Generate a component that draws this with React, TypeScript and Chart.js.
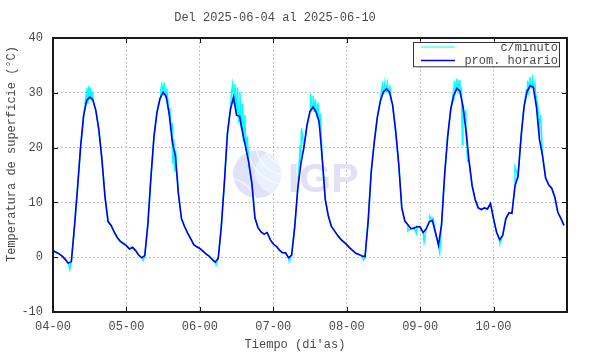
import React, { useEffect, useRef } from 'react';
import { Chart, registerables } from 'chart.js';

Chart.register(...registerables);

const titleText = 'Del 2025-06-04 al 2025-06-10';
const yTitle = 'Temperatura de superficie (°C)';
const xTitle = "Tiempo (di'as)";
const dayLabels = ['04-00', '05-00', '06-00', '07-00', '08-00', '09-00', '10-00'];
const seriesNames = ['c/minuto', 'prom. horario'];

// hourly mean (hours since 2025-06-04 00:00)
const hourlyTemp = [
  1.2, 0.9, 0.6, 0.2, -0.4, -1.1, -0.8, 5.5, 12.5, 20, 25.8, 28.6, 29.2, 28.8, 26.8, 23.2, 17.8, 11, 6.5, 5.8, 4.6, 3.6, 2.9, 2.5,
  2.1, 1.5, 1.8, 1.2, 0.4, -0.1, 0.3, 6, 14.5, 22, 26.5, 29, 30.1, 29.3, 26, 21, 18.5, 11.5, 7, 5.6, 4.4, 3.4, 2.3, 1.9,
  1.6, 1.1, 0.6, 0.2, -0.4, -0.9, -0.2, 5.5, 13.5, 22.5, 27, 29.2, 25.9, 25.7, 22.6, 20, 17.2, 13.5, 7.2, 5.4, 4.6, 4.2, 4.5, 3.2,
  2.4, 2, 1.3, 0.8, 0.8, -0.1, 0.4, 5.5, 12.5, 17, 20, 24, 26.6, 27.4, 26.5, 24.6, 18, 10.5, 7.5, 5.6, 4.8, 4, 3.3, 2.8,
  2.3, 1.7, 1.2, 0.7, 0.5, 0.2, 0.1, 6.5, 15.5, 21, 25.5, 28.5, 30.2, 30.7, 30.1, 27.8, 23, 17, 9, 6.6, 5.9, 5.2, 5.3, 5.6,
  5.5, 4.5, 5.2, 6.5, 6.7, 4.5, 2.2, 6, 15, 22, 27, 29.5, 30.8, 30.3, 27.5, 23, 17.5, 13, 10.5, 9, 8.7, 9, 8.8, 9.8,
  7, 4.5, 3.2, 4, 7, 8.1, 8, 13, 14.8, 22, 27.6, 30.3, 31.3, 31, 27.5, 21.5, 18.5, 14.5, 13.2, 12.6, 11, 8.2, 7.1, 5.8,
];

// per-minute excursions (hours, °C)
const minuteHours = [
  5.5, 10.8, 11.1, 11.4, 11.7, 12.0, 12.3, 12.6, 12.9, 13.3,
  29.5, 35.2, 35.6, 36.0, 36.4, 36.8, 37.2, 37.6, 38.2, 38.6, 38.9, 39.2, 39.5, 39.8, 40.1, 40.4, 40.7,
  53.3, 58.3, 58.7, 59.1, 59.5, 59.9, 60.3, 60.7, 61.1, 61.5, 61.9, 62.3, 62.7, 63.1, 63.5, 64.0,
  77.2, 80.8, 81.2, 84.2, 84.6, 85.0, 85.4, 85.8, 86.2, 86.6, 87.0, 87.4,
  101.5, 107.3, 107.7, 108.1, 108.5, 108.9, 109.3, 109.7, 110.1, 110.5,
  116.0, 118.8, 121.3, 123.2, 124.2, 126.4, 130.8, 131.2, 131.6, 132.0, 132.4, 132.8, 133.2, 133.5, 133.8, 134.1, 134.5, 134.9, 135.2, 135.5,
  146.1, 150.6, 151.0, 153.6, 154.7, 155.1, 155.5, 155.9, 156.3, 156.7, 157.1, 157.5, 158.0, 158.5, 159.0, 159.4, 160.3,
];
const minuteTemps = [
  -2.2, 29.5, 30.8, 28, 31.2, 28.8, 30.9, 28.4, 30.2, 28,
  -0.6, 30.5, 31.5, 29.5, 31.8, 29.2, 30.8, 28.4, 27.2, 23, 24.5, 17, 21.5, 15.5, 19.5, 16, 14,
  -1.4, 30, 31.5, 28, 31.6, 26.5, 31, 24.5, 30.2, 23.5, 28, 21, 26, 19.5, 22, 16.5,
  -0.8, 20.5, 23.5, 29.8, 27, 29.5, 26.5, 28.8, 25.5, 28.2, 24, 26.2,
  -0.5, 30.3, 31.5, 29.8, 31.9, 30.2, 31.8, 30, 31.4, 28.8,
  4.8, 4.3, 2.8, 7.5, 7.3, 0.8, 30, 32.2, 30.2, 32.6, 30.5, 32.3, 29.8, 31, 20.5, 27.5, 25.8, 26.5, 21, 17.5,
  2.5, 11, 16.5, 26, 30.5, 32.2, 30.3, 32.9, 31, 32.6, 30.6, 31.8, 29.5, 27.5, 24.5, 26, 17.5,
];

const FONT = '"Liberation Mono", "Courier New", monospace';
const TEXT = '#4a4a4a';

const decorPlugin = {
  id: 'decor',
  beforeDatasetsDraw(chart: any) {
    const { ctx, chartArea: a } = chart;
    const w = a.right - a.left;
    const h = a.bottom - a.top;
    const cx = a.left + 0.397 * w;
    const cy = a.top + 0.497 * h;
    const r = 24;
    ctx.save();
    ctx.beginPath();
    ctx.arc(cx, cy, r, 0, Math.PI * 2);
    ctx.fillStyle = 'rgb(224,226,247)';
    ctx.fill();
    ctx.clip();
    ctx.fillStyle = 'rgb(232,242,255)';
    ctx.beginPath();
    ctx.arc(cx + 20, cy - 2, 22, 0, Math.PI * 2);
    ctx.fill();
    ctx.strokeStyle = 'rgb(246,248,255)';
    ctx.lineWidth = 1.5;
    for (let k = 0; k < 3; k++) {
      ctx.beginPath();
      ctx.arc(cx + 30, cy - 30, 22 + k * 9, Math.PI * 0.45, Math.PI * 1.05);
      ctx.stroke();
    }
    ctx.beginPath();
    ctx.arc(cx - 30, cy + 34, 30, Math.PI * 1.5, Math.PI * 2);
    ctx.stroke();
    ctx.restore();
    ctx.save();
    ctx.font = 'bold 41px "Liberation Sans", Arial, sans-serif';
    ctx.fillStyle = 'rgb(224,224,246)';
    ctx.textBaseline = 'alphabetic';
    ctx.textAlign = 'left';
    ctx.fillText('IGP', a.left + 0.457 * w, a.top + 0.562 * h);
    ctx.restore();
  },
  afterDraw(chart: any) {
    const { ctx, chartArea: a, scales } = chart;
    ctx.save();
    // inward ticks
    ctx.strokeStyle = '#111';
    ctx.lineWidth = 1;
    const tl = 5;
    scales.x.ticks.forEach((t: any) => {
      const px = Math.round(scales.x.getPixelForValue(t.value)) + 0.5;
      ctx.beginPath();
      ctx.moveTo(px, a.bottom);
      ctx.lineTo(px, a.bottom - tl);
      ctx.moveTo(px, a.top);
      ctx.lineTo(px, a.top + tl);
      ctx.stroke();
    });
    scales.y.ticks.forEach((t: any) => {
      const py = Math.round(scales.y.getPixelForValue(t.value)) + 0.5;
      ctx.beginPath();
      ctx.moveTo(a.left, py);
      ctx.lineTo(a.left + tl, py);
      ctx.moveTo(a.right, py);
      ctx.lineTo(a.right - tl, py);
      ctx.stroke();
    });
    // frame
    ctx.strokeStyle = '#1a1a1a';
    ctx.lineWidth = 2;
    ctx.strokeRect(a.left, a.top, a.right - a.left, a.bottom - a.top);

    // titles
    ctx.fillStyle = TEXT;
    ctx.font = `12px ${FONT}`;
    ctx.textAlign = 'center';
    ctx.textBaseline = 'middle';
    ctx.fillText(titleText, 275, 18);
    ctx.fillText(xTitle, 295, 345);
    ctx.save();
    ctx.translate(12, 154);
    ctx.rotate(-Math.PI / 2);
    ctx.fillText(yTitle, 0, 0);
    ctx.restore();

    // legend
    const bx = a.right - 154;
    const by = a.top + 3.7;
    const bw = 146;
    const bh = 24.3;
    ctx.fillStyle = '#ffffff';
    ctx.fillRect(bx, by, bw, bh);
    ctx.strokeStyle = '#333';
    ctx.lineWidth = 1;
    ctx.strokeRect(Math.round(bx) + 0.5, Math.round(by) + 0.5, bw, bh);
    const ds = chart.data.datasets;
    const rows = [ds[1], ds[0]];
    const ys = [by + 5.3, by + 18.7];
    rows.forEach((d: any, i: number) => {
      ctx.strokeStyle = d.borderColor;
      ctx.lineWidth = i === 0 ? 1 : 1.5;
      ctx.beginPath();
      ctx.moveTo(bx + 8, ys[i]);
      ctx.lineTo(bx + 42, ys[i]);
      ctx.stroke();
      ctx.fillStyle = TEXT;
      ctx.font = `12px ${FONT}`;
      ctx.textAlign = 'right';
      ctx.textBaseline = 'middle';
      ctx.fillText(d.label, bx + bw - 1, ys[i] + 0.5);
    });
    ctx.restore();
  },
};

export default function App() {
  const ref = useRef<HTMLCanvasElement | null>(null);
  useEffect(() => {
    if (!ref.current) return;
    const hourlyPts = hourlyTemp.map((v, i) => ({ x: i, y: v }));
    const minutePts = hourlyPts
      .concat(minuteHours.map((hh, i) => ({ x: hh, y: minuteTemps[i] })))
      .sort((p, q) => p.x - q.x);
    const font = { family: FONT, size: 12 };
    const chart = new Chart(ref.current, {
      type: 'line',
      data: {
        datasets: [
          {
            label: seriesNames[1],
            data: hourlyPts,
            borderColor: '#0000f0',
            borderWidth: 1.6,
            pointRadius: 0,
            tension: 0,
            order: 1,
          },
          {
            label: seriesNames[0],
            data: minutePts,
            borderColor: '#00ffff',
            borderWidth: 1.5,
            pointRadius: 0,
            tension: 0,
            order: 2,
          },
        ],
      },
      options: {
        responsive: false,
        animation: false,
        devicePixelRatio: 1,
        parsing: false,
        layout: { padding: { left: 0, right: 23, top: 38, bottom: 0 } },
        plugins: {
          legend: { display: false },
          tooltip: { enabled: false },
          title: { display: false },
        },
        scales: {
          x: {
            type: 'linear',
            min: 0,
            max: 168,
            afterFit: (s: any) => {
              s.height = 42;
            },
            ticks: {
              stepSize: 24,
              autoSkip: false,
              maxRotation: 0,
              padding: 8,
              color: TEXT,
              font,
              callback: (v: any) => dayLabels[Math.round(v / 24)] ?? '',
            },
            grid: { color: '#b0b0b0', lineWidth: 1, drawTicks: false },
            border: { display: false, dash: [1.5, 2.5] },
          },
          y: {
            min: -10,
            max: 40,
            afterFit: (s: any) => {
              s.width = 53;
            },
            ticks: { stepSize: 10, padding: 10, color: TEXT, font },
            grid: { color: '#b0b0b0', lineWidth: 1, drawTicks: false },
            border: { display: false, dash: [1.5, 2.5] },
          },
        },
      },
      plugins: [decorPlugin],
    } as any);
    return () => chart.destroy();
  }, []);
  return (
    <div style={{ position: 'absolute', left: 0, top: 0, width: 590, height: 354, background: '#fff' }}>
      <canvas ref={ref} width={590} height={354} />
    </div>
  );
}
